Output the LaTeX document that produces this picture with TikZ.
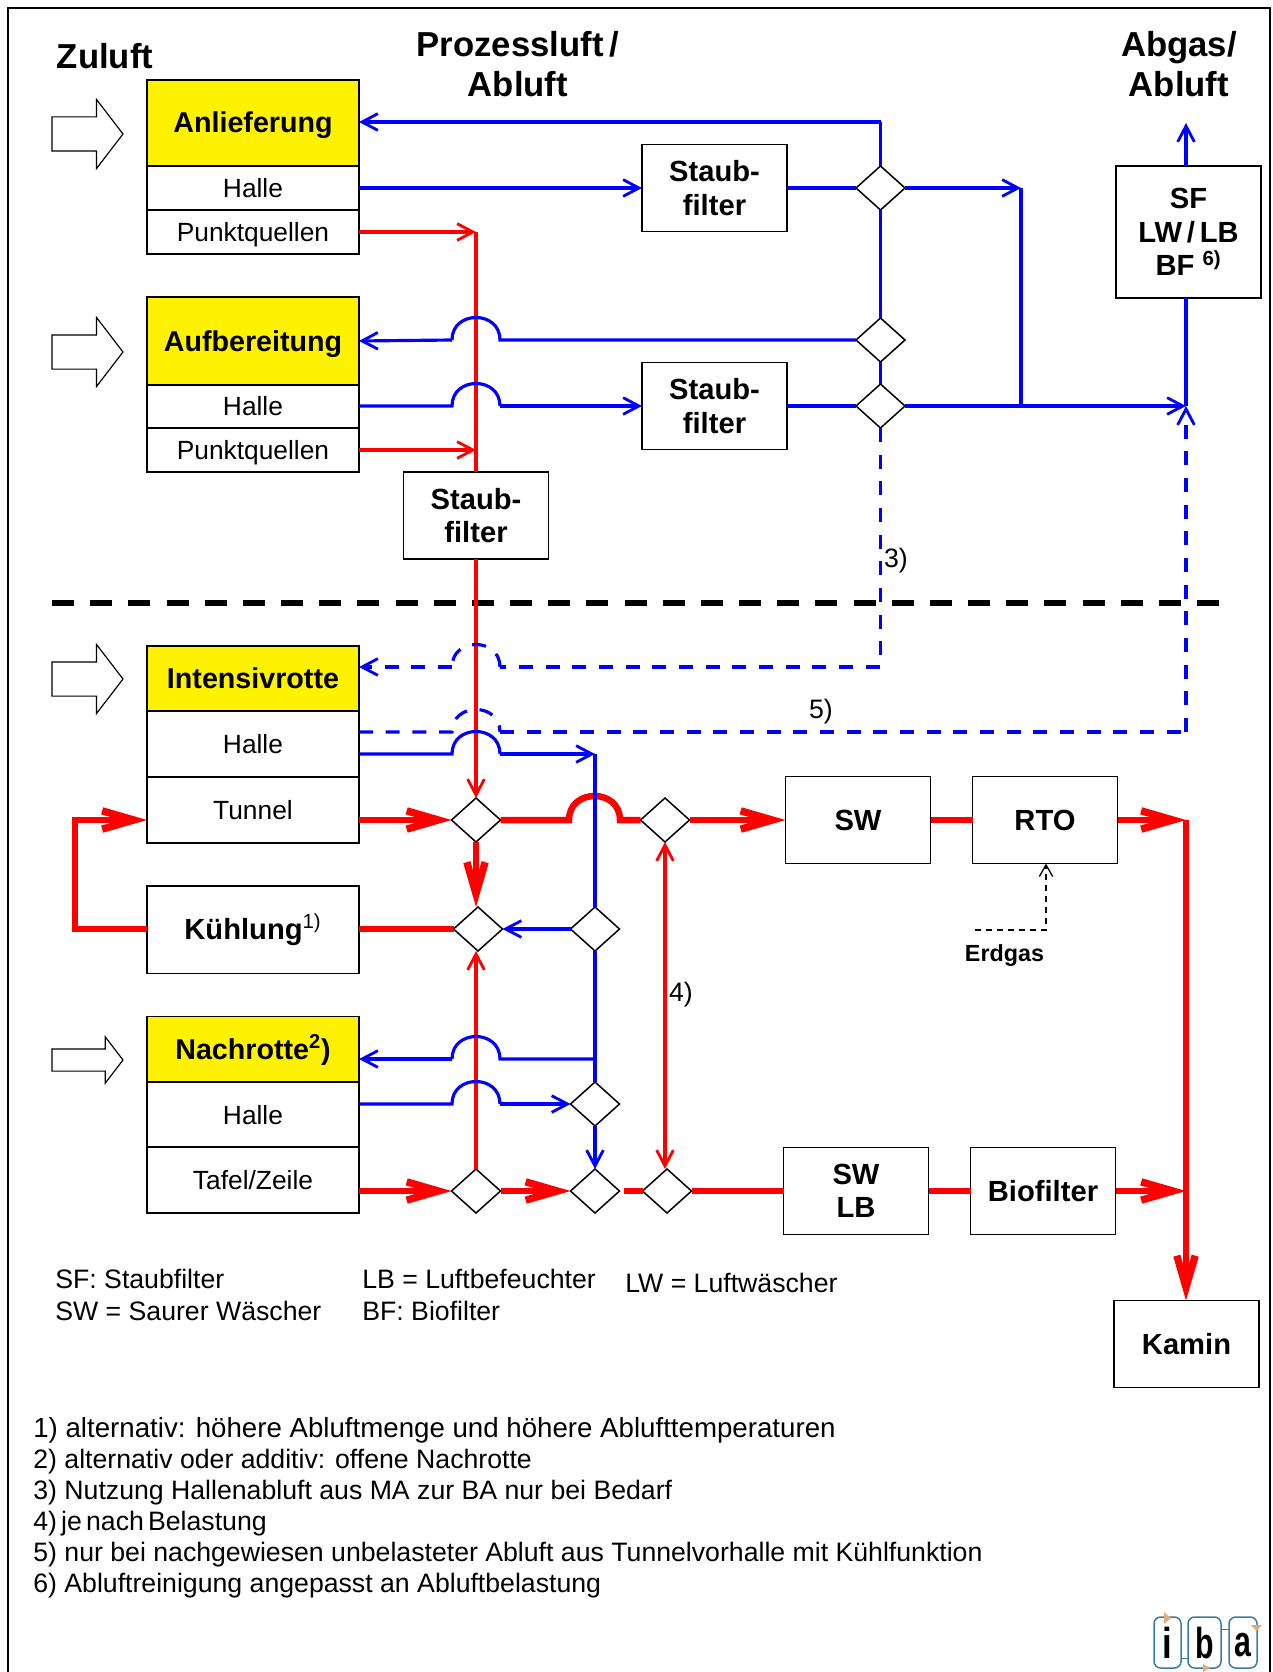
\documentclass[tikz,border=0pt]{standalone}
\usepackage{fontspec}
\setmainfont{Liberation Sans}
\usepackage{tikz}
\usetikzlibrary{arrows.meta, shapes.geometric, shapes.arrows}

\definecolor{pureblue}{RGB}{0,0,255}
\definecolor{purered}{RGB}{255,0,0}
\definecolor{logoblue}{RGB}{58,124,160}
\definecolor{logotip}{RGB}{232,168,120}

% hop over the red process line, left to right and right to left
\newcommand{\hopE}[1]{-- (452,#1) .. controls (452,#1-30) and (500,#1-30) .. (500,#1)}
\newcommand{\hopW}[1]{-- (500,#1) .. controls (500,#1-30) and (452,#1-30) .. (452,#1)}

\begin{document}
\begin{tikzpicture}[x=0.6pt, y=-0.6pt,
    hall/.style={draw, line width=0.9pt, fill=yellow, minimum width=127.2pt, inner sep=0pt, outer sep=0pt, text height=12pt, text depth=0pt, font=\bfseries\fontsize{17.2}{20}\selectfont},
    part/.style={draw, line width=0.9pt, fill=white, minimum width=127.2pt, inner sep=0pt, outer sep=0pt, text height=11pt, text depth=0pt, font=\fontsize{15.8}{19}\selectfont},
    unit/.style={draw, line width=0.9pt, fill=white, minimum width=87pt, minimum height=52.2pt, inner sep=0pt, outer sep=0pt, align=center, font=\bfseries\fontsize{17.5}{20}\selectfont},
    valve/.style={diamond, draw, line width=0.9pt, fill=white, minimum width=29.4pt, minimum height=26.4pt, inner sep=0pt, outer sep=0pt},
    inlet/.style={single arrow, draw, line width=0.7pt, fill=white, inner xsep=0pt, outer sep=0pt, anchor=tail, single arrow tip angle=105},
    headline/.style={align=center, font=\bfseries\fontsize{20.8}{24}\selectfont},
    note/.style={anchor=base west, inner sep=0pt, font=\fontsize{16}{18}\selectfont},
    linemark/.style={inner sep=0pt, font=\fontsize{16}{18}\selectfont},
    thinblue/.style={draw=pureblue, line width=1.9pt, -{Straight Barb[length=9.5pt,width=10pt,line width=1.7pt]}},
    thinred/.style={draw=purered, line width=1.9pt, -{Straight Barb[length=9.5pt,width=10pt,line width=1.7pt]}},
    thickred/.style={draw=purered, line width=3.9pt, -{Straight Barb[length=19pt,width=11pt,line width=4.4pt]}},
    blueline/.style={draw=pureblue, line width=1.9pt},
    redline/.style={draw=purered, line width=1.9pt},
    thickline/.style={draw=purered, line width=3.9pt},
    flowdash/.style={dash pattern=on 8.4pt off 7.6pt},
    logobox/.style={draw=logoblue, line width=0.9pt, rounded corners=4pt, minimum height=30.6pt, inner sep=0pt, outer sep=0pt}]

    \useasboundingbox (0,0) rectangle (1272,1672);

    % Frame, open at the bottom
    \draw[line width=1.6pt] (8,1672) -- (8,8) -- (1270,8) -- (1270,1672);

    % Headlines
    \node[headline] (zuluft) at (105,56) {Zuluft};
    \node[headline] (prozess) at (518,64) {Prozessluft\,/\\Abluft};
    \node[headline] (abgas) at (1179,64) {Abgas/\\Abluft};

    % Upper halls
    \node[hall, minimum height=51.6pt] (anl) at (253,123) {Anlieferung};
    \node[part, minimum height=26.4pt] (anlHalle) at (253,188) {Halle};
    \node[part, minimum height=26.4pt] (anlPunkt) at (253,232) {Punktquellen};
    \node[hall, minimum height=52.8pt] (auf) at (253,341) {Aufbereitung};
    \node[part, minimum height=26.1pt] (aufHalle) at (253,406.5) {Halle};
    \node[part, minimum height=26.4pt] (aufPunkt) at (253,450) {Punktquellen};

    % Lower halls
    \node[hall, minimum height=39pt] (int) at (253,678.5) {Intensivrotte};
    \node[part, minimum height=39.6pt] (intHalle) at (253,744) {Halle};
    \node[part, minimum height=39.6pt] (tunnel) at (253,810) {Tunnel};
    \node[unit, minimum width=127.2pt, minimum height=52.5pt] (kuehl) at (253,929.5) {Kühlung\textsuperscript{\mdseries 1)}};
    \node[hall, minimum height=39pt] (nach) at (253,1049) {Nachrotte\textsuperscript{2})};
    \node[part, minimum height=39.6pt] (nachHalle) at (253,1115) {Halle};
    \node[part, minimum height=39.6pt] (tafel) at (253,1180) {Tafel/Zeile};

    % Supply arrows
    \node[inlet, minimum height=42.6pt, inner ysep=9.9pt, single arrow head extend=10.5pt] (inAnl) at (52,134) {};
    \node[inlet, minimum height=42.6pt, inner ysep=9.9pt, single arrow head extend=10.5pt] (inAuf) at (52,352) {};
    \node[inlet, minimum height=42.6pt, inner ysep=9.9pt, single arrow head extend=10.5pt] (inInt) at (52,679) {};
    \node[inlet, minimum height=42.6pt, inner ysep=6.3pt, single arrow head extend=7.2pt] (inNach) at (52,1060) {};

    % Treatment units
    \node[unit] (staubA) at (714.5,188) {Staub-\\filter};
    \node[unit] (staubB) at (714.5,406) {Staub-\\filter};
    \node[unit] (staubC) at (476,515.5) {Staub-\\filter};
    \node[unit, minimum height=79pt] (sf) at (1188.5,232) {SF\\LW\,/\,LB\\BF \textsuperscript{6)}};
    \node[unit] (sw) at (858,820) {SW};
    \node[unit] (rto) at (1045,820) {RTO};
    \node[unit] (swlb) at (856,1191) {SW\\LB};
    \node[unit] (bio) at (1043,1191) {Biofilter};
    \node[unit] (kamin) at (1186.5,1344) {Kamin};

    % Valves
    \node[valve] (vA) at (880.5,188) {};
    \node[valve] (vB) at (880.5,340) {};
    \node[valve] (vC) at (880.5,406) {};
    \node[valve] (vD) at (476,820) {};
    \node[valve] (vE) at (665,820) {};
    \node[valve] (vF) at (478,929) {};
    \node[valve] (vG) at (595,929) {};
    \node[valve] (vH) at (595,1104) {};
    \node[valve] (vI) at (476,1191) {};
    \node[valve] (vJ) at (595,1191) {};
    \node[valve] (vK) at (667,1191) {};

    % Junctions
    \coordinate (busTop) at (880.5,122);
    \coordinate (busEast) at (1021,188);
    \coordinate (stack) at (1186,406);
    \coordinate (stackTop) at (1186,123);
    \coordinate (procTop) at (476,232);
    \coordinate (busIn) at (595,754);
    \coordinate (busOut) at (595,1059);
    \coordinate (dashCorner) at (880.5,667);
    \coordinate (dashEast) at (1186,732);
    \coordinate (merge) at (1186,820);
    \coordinate (mergeLow) at (1186,1191);
    \coordinate (loopLow) at (75,929);
    \coordinate (loopHigh) at (75,820);
    \coordinate (gapStart) at (623.5,1191);
    \coordinate (gasStart) at (975,930);
    \coordinate (gasBend) at (1046,930);

    % Border between the plant parts
    \coordinate (lineW) at (52,603);
    \coordinate (lineE) at (1219,603);
    \draw[line width=3.3pt, dash pattern=on 13.2pt off 9.7pt] (lineW) -- (lineE);

    % Red process air
    \draw[thinred] (anlPunkt.east) -- (procTop);
    \draw[thinred] (aufPunkt.east) -- (aufPunkt.east -| procTop);
    \draw[redline] (procTop) -- (staubC.north);
    \draw[thinred] (staubC.south) -- (vD.north);
    \draw[thinred] (vI.north) -- (vI.north |- vF.south);
    \draw[thinred, {Straight Barb[length=9.5pt,width=10pt,line width=1.7pt]}-{Straight Barb[length=9.5pt,width=10pt,line width=1.7pt]}] (vE.south) -- (vK.north -| vE.south);

    % Thick red lines
    \draw[thickred] (tunnel.east |- vD.west) -- (vD.west);
    \draw[thickline] (vD.east) -- (569,820) .. controls (569,788) and (620,788) .. (620,820) -- (vE.west);
    \draw[thickred] (vE.east) -- (sw.west);
    \draw[thickline] (sw.east) -- (rto.west);
    \draw[thickred] (rto.east) -- (merge);
    \draw[thickred] (vD.south) -- (vF.north -| vD.south);
    \draw[thickline] (kuehl.east |- vF.west) -- (vF.west);
    \draw[thickred] (kuehl.west |- vF.west) -- (loopLow) -- (loopHigh) -- (tunnel.west |- loopHigh);
    \draw[thickred] (tafel.east |- vI.west) -- (vI.west);
    \draw[thickred] (vI.east) -- (vJ.west);
    \draw[thickline] (gapStart) -- (vK.west);
    \draw[thickline] (vK.east) -- (swlb.west);
    \draw[thickline] (swlb.east) -- (bio.west);
    \draw[thickred] (bio.east) -- (mergeLow);
    \draw[thickred] (merge) -- (kamin.north -| merge);

    % Blue hall air
    \draw[thinblue] (busTop) -- (anl.east |- busTop);
    \draw[blueline] (busTop) -- (vA.north);
    \draw[blueline] (vA.south) -- (vB.north);
    \draw[blueline] (vB.south) -- (vC.north);
    \draw[thinblue] (anlHalle.east) -- (staubA.west);
    \draw[blueline] (staubA.east) -- (vA.west);
    \draw[thinblue] (vA.east) -- (busEast);
    \draw[blueline] (busEast) -- (busEast |- stack);
    \draw[blueline] (vB.west) \hopW{340};
    \draw[thinblue] (452,340) -- (auf.east);
    \draw[blueline] (aufHalle.east |- vC.west) \hopE{406};
    \draw[thinblue] (500,406) -- (staubB.west);
    \draw[blueline] (staubB.east) -- (vC.west);
    \draw[thinblue] (vC.east) -- (stack);
    \draw[thinblue] (sf.north -| stack) -- (stackTop);
    \draw[blueline] (stack) -- (sf.south -| stack);

    % Dashed hall air
    \draw[blueline, flowdash] (vC.south) -- (dashCorner) -- (500,667);
    \draw[blueline, flowdash] (500,667) .. controls (500,637) and (452,637) .. (452,667);
    \draw[thinblue, flowdash] (452,667) -- (int.east |- dashCorner);
    \draw[blueline, flowdash] (intHalle.east |- dashEast) \hopE{732};
    \draw[blueline, flowdash] (500,732) -- (dashEast);
    \draw[thinblue, flowdash] (dashEast) -- (stack);

    % Blue air in the lower part
    \draw[blueline] (intHalle.east |- busIn) \hopE{754};
    \draw[thinblue] (500,754) -- (busIn);
    \draw[blueline] (busIn) -- (vG.north);
    \draw[blueline] (vG.south) -- (vH.north);
    \draw[thinblue] (vG.west) -- (vF.east);
    \draw[blueline] (busOut) \hopW{1059};
    \draw[thinblue] (452,1059) -- (nach.east |- busOut);
    \draw[blueline] (nachHalle.east |- vH.west) \hopE{1104};
    \draw[thinblue] (500,1104) -- (vH.west);
    \draw[thinblue] (vH.south) -- (vJ.north);

    % Natural gas
    \draw[line width=0.9pt, dash pattern=on 3.6pt off 3pt, -{Straight Barb[length=7pt,width=8pt,line width=0.8pt]}] (gasStart) -- (gasBend) -- (rto.south -| gasBend);
    \node[inner sep=0pt, font=\bfseries\fontsize{14}{15}\selectfont] (erdgas) at (1004.5,956) {Erdgas};

    % Marks on the lines
    \node[linemark] (mThree) at (896,561) {3)};
    \node[linemark] (mFour) at (681,995) {4)};
    \node[linemark] (mFive) at (821,712) {5)};

    % Abbreviations
    \node[note] (absSF) at (55,1288) {SF: Staubfilter};
    \node[note] (absSW) at (55,1320) {SW = Saurer Wäscher};
    \node[note] (absLB) at (362,1288) {LB = Luftbefeuchter};
    \node[note] (absBF) at (362,1320) {BF: Biofilter};
    \node[note] (absLW) at (625,1292) {LW = Luftwäscher};

    % Footnotes
    \node[note, font=\fontsize{16.6}{18}\selectfont] (noteA) at (33,1437) {1) alternativ: höhere Abluftmenge und höhere Ablufttemperaturen};
    \node[note] (noteB) at (33,1468) {2) alternativ oder additiv: offene Nachrotte};
    \node[note] (noteC) at (33,1499) {3) Nutzung Hallenabluft aus MA zur BA nur bei Bedarf};
    \node[note] (noteD) at (33,1530) {\spaceskip=2.5pt 4) je nach Belastung};
    \node[note] (noteE) at (33,1561) {5) nur bei nachgewiesen unbelasteter Abluft aus Tunnelvorhalle mit Kühlfunktion};
    \node[note] (noteF) at (33,1592) {6) Abluftreinigung angepasst an Abluftbelastung};

    % Logo
    \node[logobox, minimum width=16.2pt] (logoI) at (1167.5,1642.5) {};
    \node[logobox, minimum width=19.8pt] (logoB) at (1204.5,1642.5) {};
    \node[logobox, minimum width=16.8pt] (logoA) at (1243,1642.5) {};
    \draw[logoblue, line width=0.5pt] (logoI.east |- 0,1658) -- (logoB.west |- 0,1658);
    \draw[logoblue, line width=0.5pt] (logoB.east |- 0,1629) -- (logoA.west |- 0,1629);
    \node[inner sep=0pt, font=\bfseries\fontsize{26}{26}\selectfont] (letterI) at (logoI) {\scalebox{0.8}[1]{i}};
    \node[inner sep=0pt, font=\bfseries\fontsize{26}{26}\selectfont] (letterB) at (logoB) {\scalebox{0.7}[1]{b}};
    \node[inner sep=0pt, font=\bfseries\fontsize{26}{26}\selectfont] (letterA) at ([yshift=-1.5pt]logoA) {\scalebox{0.7}[1]{a}};
    \fill[logotip] (1164,1612) -- (1171,1618) -- (1164,1624) -- cycle;
    \fill[logotip] (1203,1664) -- (1210,1668) -- (1203,1672) -- cycle;
    \fill[logotip] (1251,1625) -- (1262,1625) -- (1256.5,1631) -- cycle;

\end{tikzpicture}
\end{document}
